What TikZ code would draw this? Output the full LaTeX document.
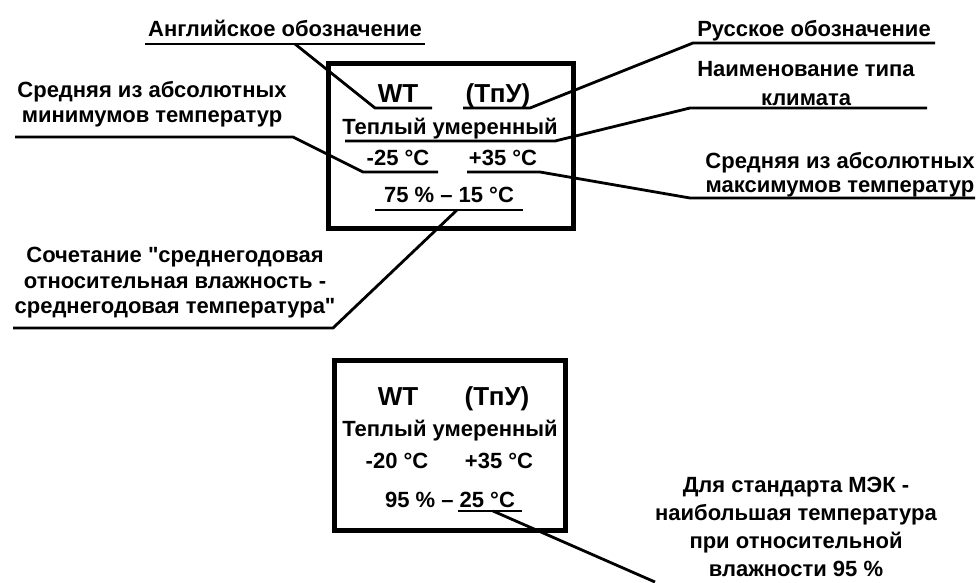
\documentclass[tikz,border=0pt]{standalone}
\usepackage{fontspec}
\setmainfont{Liberation Sans}
\usetikzlibrary{positioning}
\begin{document}
\begin{tikzpicture}[x=1pt,y=-1pt,every node/.style={font=\bfseries\fontsize{22}{25}\selectfont,inner sep=0pt,align=center,anchor=base},
  big/.style={font=\bfseries\fontsize{26}{28}\selectfont},
  lead/.style={line width=2.8pt},
  frame/.style={line width=5pt}]
  \useasboundingbox (0,0) rectangle (980,582);
  \draw[frame] (328,63) rectangle (573,228);
  \draw[frame] (334,360) rectangle (565,530);

  \node[big] (wt1) at (398,102){WT};
  \node[big] (ru1) at (498,102){(ТпУ)};
  \node (cl1) at (450,134){Теплый умеренный};
  \node (lo1) at (398,165){-25 °C};
  \node (hi1) at (503,165){+35 °C};
  \node (rh1) at (449,202){75 \% – 15 °C};

  \node[big] (wt2) at (398,405){WT};
  \node[big] (ru2) at (497,405){(ТпУ)};
  \node (cl2) at (450,436){Теплый умеренный};
  \node (lo2) at (397,468){-20 °C};
  \node (hi2) at (499,468){+35 °C};
  \node (rh2) at (450,507){95 \% – 25 °C};

  \node (eng) at (285,36){Английское обозначение};
  \node (rus) at (814,36){Русское обозначение};
  \node (typ) at (806,105){Наименование типа\\[4pt]климата};
  \node (minl) at (152,122){Средняя из абсолютных\\минимумов температур};
  \node (maxl) at (840,192){Средняя из абсолютных\\[-1pt]максимумов температур};
  \node (mix) at (175,313){Сочетание \textquotedbl среднегодовая\\[1pt]относительная влажность -\\среднегодовая температура\textquotedbl};
  \node (iec) at (796,576){Для стандарта МЭК -\\[3pt]наибольшая температура\\[3pt]при относительной\\[3pt]влажности 95 \%};

  \coordinate (e1) at (145,44); \coordinate (e2) at (425,44); \coordinate (e3) at (295,44);
  \coordinate (w1) at (375,108); \coordinate (w2) at (432,108);
  \coordinate (r1) at (693,43); \coordinate (r2) at (935,43);
  \coordinate (u1) at (463,108); \coordinate (u2) at (530,108);
  \coordinate (t1) at (690,108); \coordinate (t2) at (927,108);
  \coordinate (c1) at (345,141); \coordinate (c2) at (555,141);
  \coordinate (m1) at (15,137); \coordinate (m2) at (293,137);
  \coordinate (n1) at (363,172); \coordinate (n2) at (438,172);
  \coordinate (x1) at (690,198); \coordinate (x2) at (975,198);
  \coordinate (p1) at (467,172); \coordinate (p2) at (540,172);
  \coordinate (s1) at (13,328); \coordinate (s2) at (333,328);
  \coordinate (v1) at (375,210); \coordinate (v2) at (523,210); \coordinate (v3) at (457,210);
  \coordinate (k1) at (458,511); \coordinate (k2) at (522,511); \coordinate (k3) at (493,511);
  \coordinate (kend) at (655,582);

  \draw[lead](e1)--(e2);
  \draw[lead](e3)--(w1)--(w2);
  \draw[lead](r2)--(r1)--(u2)--(u1);
  \draw[lead](t2)--(t1)--(c2)--(c1);
  \draw[lead](m1)--(m2)--(n1)--(n2);
  \draw[lead](x2)--(x1)--(p2)--(p1);
  \draw[lead](s1)--(s2)--(v3);
  \draw[lead](v1)--(v2);
  \draw[lead](k1)--(k2);
  \draw[lead](k3)--(kend);
\end{tikzpicture}
\end{document}
